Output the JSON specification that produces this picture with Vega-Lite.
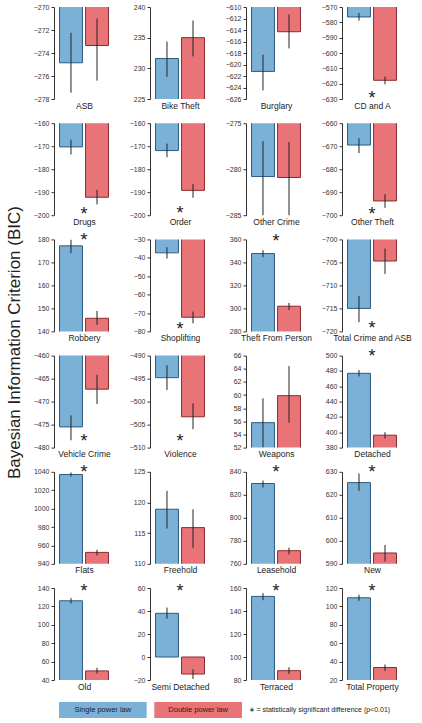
{
"$schema":"https://vega.github.io/schema/vega-lite/v6.json",
"padding":{"left":5,"top":3,"right":5,"bottom":5},
"data":{"values":[
{"panel":"ASB","model":"Single power law","value":-274.85,"lo":-277.45,"hi":-272.25},
{"panel":"ASB","model":"Double power law","value":-273.35,"lo":-276.4,"hi":-271.0},
{"panel":"Bike Theft","model":"Single power law","value":231.6,"lo":228.6,"hi":234.35},
{"panel":"Bike Theft","model":"Double power law","value":235.0,"lo":231.95,"hi":237.8},
{"panel":"Burglary","model":"Single power law","value":-621.2,"lo":-624.5,"hi":-618.3},
{"panel":"Burglary","model":"Double power law","value":-614.3,"lo":-617.2,"hi":-611.3},
{"panel":"CD and A","model":"Single power law","value":-576.5,"lo":-578.9,"hi":-573.9,"star":-627.2},
{"panel":"CD and A","model":"Double power law","value":-617.8,"lo":-620.4,"hi":-615.4},
{"panel":"Drugs","model":"Single power law","value":-170.3,"lo":-173.6,"hi":-167.2,"star":-198.3},
{"panel":"Drugs","model":"Double power law","value":-192.2,"lo":-195.3,"hi":-189.0},
{"panel":"Order","model":"Single power law","value":-171.9,"lo":-174.8,"hi":-168.9,"star":-197.9},
{"panel":"Order","model":"Double power law","value":-189.2,"lo":-192.4,"hi":-186.4},
{"panel":"Other Crime","model":"Single power law","value":-280.8,"lo":-285.5,"hi":-276.95},
{"panel":"Other Crime","model":"Double power law","value":-280.9,"lo":-285.5,"hi":-277.05},
{"panel":"Other Theft","model":"Single power law","value":-669.5,"lo":-673.0,"hi":-666.6,"star":-698.2},
{"panel":"Other Theft","model":"Double power law","value":-693.8,"lo":-696.8,"hi":-690.9},
{"panel":"Robbery","model":"Single power law","value":177.2,"lo":174.0,"hi":179.9,"star":181.2},
{"panel":"Robbery","model":"Double power law","value":145.7,"lo":142.8,"hi":148.9},
{"panel":"Shoplifting","model":"Single power law","value":-37.3,"lo":-40.4,"hi":-34.2,"star":-76.9},
{"panel":"Shoplifting","model":"Double power law","value":-72.3,"lo":-75.6,"hi":-69.2},
{"panel":"Theft From Person","model":"Single power law","value":347.7,"lo":344.5,"hi":350.7,"star":361.5},
{"panel":"Theft From Person","model":"Double power law","value":301.9,"lo":298.7,"hi":304.8},
{"panel":"Total Crime and ASB","model":"Single power law","value":-715.0,"lo":-718.0,"hi":-712.3,"star":-718.6},
{"panel":"Total Crime and ASB","model":"Double power law","value":-704.7,"lo":-707.5,"hi":-702.0},
{"panel":"Vehicle Crime","model":"Single power law","value":-475.5,"lo":-478.4,"hi":-473.0,"star":-477.9},
{"panel":"Vehicle Crime","model":"Double power law","value":-467.3,"lo":-470.5,"hi":-464.2},
{"panel":"Violence","model":"Single power law","value":-494.8,"lo":-497.5,"hi":-492.1,"star":-507.9},
{"panel":"Violence","model":"Double power law","value":-503.3,"lo":-506.0,"hi":-500.4},
{"panel":"Weapons","model":"Single power law","value":55.8,"lo":52.0,"hi":59.5},
{"panel":"Weapons","model":"Double power law","value":59.9,"lo":55.8,"hi":64.4},
{"panel":"Detached","model":"Single power law","value":476.9,"lo":472.9,"hi":481.2,"star":503.5},
{"panel":"Detached","model":"Double power law","value":396.2,"lo":391.8,"hi":400.1},
{"panel":"Flats","model":"Single power law","value":1037.1,"lo":1034.9,"hi":1039.3,"star":1042.9},
{"panel":"Flats","model":"Double power law","value":952.4,"lo":949.1,"hi":955.3},
{"panel":"Freehold","model":"Single power law","value":118.9,"lo":115.75,"hi":121.9},
{"panel":"Freehold","model":"Double power law","value":115.9,"lo":112.6,"hi":118.9},
{"panel":"Leasehold","model":"Single power law","value":829.8,"lo":826.3,"hi":832.4,"star":842.3},
{"panel":"Leasehold","model":"Double power law","value":771.4,"lo":768.2,"hi":774.0},
{"panel":"New","model":"Single power law","value":625.3,"lo":621.7,"hi":629.3,"star":631.2},
{"panel":"New","model":"Double power law","value":594.7,"lo":591.0,"hi":598.2},
{"panel":"Old","model":"Single power law","value":126.1,"lo":123.2,"hi":129.0,"star":139.6},
{"panel":"Old","model":"Double power law","value":49.9,"lo":47.0,"hi":53.2},
{"panel":"Semi Detached","model":"Single power law","value":38.0,"lo":33.3,"hi":43.0,"star":59.7},
{"panel":"Semi Detached","model":"Double power law","value":-14.8,"lo":-19.1,"hi":-10.6},
{"panel":"Terraced","model":"Single power law","value":152.7,"lo":149.4,"hi":155.6,"star":159.7},
{"panel":"Terraced","model":"Double power law","value":88.1,"lo":85.2,"hi":91.1},
{"panel":"Total Property","model":"Single power law","value":109.4,"lo":106.1,"hi":112.7,"star":119.6},
{"panel":"Total Property","model":"Double power law","value":33.6,"lo":29.9,"hi":36.8}
]},
"spacing":11,
"vconcat":[
{
"columns":4,
"bounds":"flush",
"spacing":{"row":24.2,"column":46},
"concat":[
{"width":50,"height":92,"transform":[{"filter":{"field":"panel","equal":"ASB"}}],"layer":[
{"mark":{"type":"bar","clip":true,"strokeWidth":1},"encoding":{"x":{"field":"model","type":"nominal","title":"ASB","scale":{"domain":["Single power law","Double power law"]}},"y":{"field":"value","type":"quantitative","scale":{"domain":[-278,-270],"nice":false,"zero":false},"axis":{"tickCount":20,"values":[-278,-276,-274,-272,-270]}},"y2":{"datum":0},"fill":{"field":"model","type":"nominal","scale":{"domain":["Single power law","Double power law"],"range":["#7bb1d7","#e87478"]},"legend":null},"stroke":{"field":"model","type":"nominal","scale":{"domain":["Single power law","Double power law"],"range":["#2c5a80","#8a2a2e"]},"legend":null}}},
{"mark":{"type":"rule","clip":true},"encoding":{"x":{"field":"model","type":"nominal"},"y":{"field":"lo","type":"quantitative"},"y2":{"field":"hi"}}},
{"transform":[{"filter":"isValid(datum.star)"}],"mark":{"type":"text","text":"*"},"encoding":{"y":{"field":"star","type":"quantitative"}}}]},
{"width":50,"height":92,"transform":[{"filter":{"field":"panel","equal":"Bike Theft"}}],"layer":[
{"mark":{"type":"bar","clip":true,"strokeWidth":1},"encoding":{"x":{"field":"model","type":"nominal","title":"Bike Theft","scale":{"domain":["Single power law","Double power law"]}},"y":{"field":"value","type":"quantitative","scale":{"domain":[225,240],"nice":false,"zero":false},"axis":{"tickCount":20,"values":[225,230,235,240]}},"y2":{"datum":0},"fill":{"field":"model","type":"nominal","scale":{"domain":["Single power law","Double power law"],"range":["#7bb1d7","#e87478"]},"legend":null},"stroke":{"field":"model","type":"nominal","scale":{"domain":["Single power law","Double power law"],"range":["#2c5a80","#8a2a2e"]},"legend":null}}},
{"mark":{"type":"rule","clip":true},"encoding":{"x":{"field":"model","type":"nominal"},"y":{"field":"lo","type":"quantitative"},"y2":{"field":"hi"}}},
{"transform":[{"filter":"isValid(datum.star)"}],"mark":{"type":"text","text":"*"},"encoding":{"y":{"field":"star","type":"quantitative"}}}]},
{"width":50,"height":92,"transform":[{"filter":{"field":"panel","equal":"Burglary"}}],"layer":[
{"mark":{"type":"bar","clip":true,"strokeWidth":1},"encoding":{"x":{"field":"model","type":"nominal","title":"Burglary","scale":{"domain":["Single power law","Double power law"]}},"y":{"field":"value","type":"quantitative","scale":{"domain":[-626,-610],"nice":false,"zero":false},"axis":{"tickCount":20,"values":[-626,-624,-622,-620,-618,-616,-614,-612,-610]}},"y2":{"datum":0},"fill":{"field":"model","type":"nominal","scale":{"domain":["Single power law","Double power law"],"range":["#7bb1d7","#e87478"]},"legend":null},"stroke":{"field":"model","type":"nominal","scale":{"domain":["Single power law","Double power law"],"range":["#2c5a80","#8a2a2e"]},"legend":null}}},
{"mark":{"type":"rule","clip":true},"encoding":{"x":{"field":"model","type":"nominal"},"y":{"field":"lo","type":"quantitative"},"y2":{"field":"hi"}}},
{"transform":[{"filter":"isValid(datum.star)"}],"mark":{"type":"text","text":"*"},"encoding":{"y":{"field":"star","type":"quantitative"}}}]},
{"width":50,"height":92,"transform":[{"filter":{"field":"panel","equal":"CD and A"}}],"layer":[
{"mark":{"type":"bar","clip":true,"strokeWidth":1},"encoding":{"x":{"field":"model","type":"nominal","title":"CD and A","scale":{"domain":["Single power law","Double power law"]}},"y":{"field":"value","type":"quantitative","scale":{"domain":[-630,-570],"nice":false,"zero":false},"axis":{"tickCount":20,"values":[-630,-620,-610,-600,-590,-580,-570]}},"y2":{"datum":0},"fill":{"field":"model","type":"nominal","scale":{"domain":["Single power law","Double power law"],"range":["#7bb1d7","#e87478"]},"legend":null},"stroke":{"field":"model","type":"nominal","scale":{"domain":["Single power law","Double power law"],"range":["#2c5a80","#8a2a2e"]},"legend":null}}},
{"mark":{"type":"rule","clip":true},"encoding":{"x":{"field":"model","type":"nominal"},"y":{"field":"lo","type":"quantitative"},"y2":{"field":"hi"}}},
{"transform":[{"filter":"isValid(datum.star)"}],"mark":{"type":"text","text":"*"},"encoding":{"y":{"field":"star","type":"quantitative"}}}]},
{"width":50,"height":92,"transform":[{"filter":{"field":"panel","equal":"Drugs"}}],"layer":[
{"mark":{"type":"bar","clip":true,"strokeWidth":1},"encoding":{"x":{"field":"model","type":"nominal","title":"Drugs","scale":{"domain":["Single power law","Double power law"]}},"y":{"field":"value","type":"quantitative","scale":{"domain":[-200,-160],"nice":false,"zero":false},"axis":{"tickCount":20,"values":[-200,-190,-180,-170,-160]}},"y2":{"datum":0},"fill":{"field":"model","type":"nominal","scale":{"domain":["Single power law","Double power law"],"range":["#7bb1d7","#e87478"]},"legend":null},"stroke":{"field":"model","type":"nominal","scale":{"domain":["Single power law","Double power law"],"range":["#2c5a80","#8a2a2e"]},"legend":null}}},
{"mark":{"type":"rule","clip":true},"encoding":{"x":{"field":"model","type":"nominal"},"y":{"field":"lo","type":"quantitative"},"y2":{"field":"hi"}}},
{"transform":[{"filter":"isValid(datum.star)"}],"mark":{"type":"text","text":"*"},"encoding":{"y":{"field":"star","type":"quantitative"}}}]},
{"width":50,"height":92,"transform":[{"filter":{"field":"panel","equal":"Order"}}],"layer":[
{"mark":{"type":"bar","clip":true,"strokeWidth":1},"encoding":{"x":{"field":"model","type":"nominal","title":"Order","scale":{"domain":["Single power law","Double power law"]}},"y":{"field":"value","type":"quantitative","scale":{"domain":[-200,-160],"nice":false,"zero":false},"axis":{"tickCount":20,"values":[-200,-190,-180,-170,-160]}},"y2":{"datum":0},"fill":{"field":"model","type":"nominal","scale":{"domain":["Single power law","Double power law"],"range":["#7bb1d7","#e87478"]},"legend":null},"stroke":{"field":"model","type":"nominal","scale":{"domain":["Single power law","Double power law"],"range":["#2c5a80","#8a2a2e"]},"legend":null}}},
{"mark":{"type":"rule","clip":true},"encoding":{"x":{"field":"model","type":"nominal"},"y":{"field":"lo","type":"quantitative"},"y2":{"field":"hi"}}},
{"transform":[{"filter":"isValid(datum.star)"}],"mark":{"type":"text","text":"*"},"encoding":{"y":{"field":"star","type":"quantitative"}}}]},
{"width":50,"height":92,"transform":[{"filter":{"field":"panel","equal":"Other Crime"}}],"layer":[
{"mark":{"type":"bar","clip":true,"strokeWidth":1},"encoding":{"x":{"field":"model","type":"nominal","title":"Other Crime","scale":{"domain":["Single power law","Double power law"]}},"y":{"field":"value","type":"quantitative","scale":{"domain":[-285,-275],"nice":false,"zero":false},"axis":{"tickCount":20,"values":[-285,-280,-275]}},"y2":{"datum":0},"fill":{"field":"model","type":"nominal","scale":{"domain":["Single power law","Double power law"],"range":["#7bb1d7","#e87478"]},"legend":null},"stroke":{"field":"model","type":"nominal","scale":{"domain":["Single power law","Double power law"],"range":["#2c5a80","#8a2a2e"]},"legend":null}}},
{"mark":{"type":"rule","clip":true},"encoding":{"x":{"field":"model","type":"nominal"},"y":{"field":"lo","type":"quantitative"},"y2":{"field":"hi"}}},
{"transform":[{"filter":"isValid(datum.star)"}],"mark":{"type":"text","text":"*"},"encoding":{"y":{"field":"star","type":"quantitative"}}}]},
{"width":50,"height":92,"transform":[{"filter":{"field":"panel","equal":"Other Theft"}}],"layer":[
{"mark":{"type":"bar","clip":true,"strokeWidth":1},"encoding":{"x":{"field":"model","type":"nominal","title":"Other Theft","scale":{"domain":["Single power law","Double power law"]}},"y":{"field":"value","type":"quantitative","scale":{"domain":[-700,-660],"nice":false,"zero":false},"axis":{"tickCount":20,"values":[-700,-690,-680,-670,-660]}},"y2":{"datum":0},"fill":{"field":"model","type":"nominal","scale":{"domain":["Single power law","Double power law"],"range":["#7bb1d7","#e87478"]},"legend":null},"stroke":{"field":"model","type":"nominal","scale":{"domain":["Single power law","Double power law"],"range":["#2c5a80","#8a2a2e"]},"legend":null}}},
{"mark":{"type":"rule","clip":true},"encoding":{"x":{"field":"model","type":"nominal"},"y":{"field":"lo","type":"quantitative"},"y2":{"field":"hi"}}},
{"transform":[{"filter":"isValid(datum.star)"}],"mark":{"type":"text","text":"*"},"encoding":{"y":{"field":"star","type":"quantitative"}}}]},
{"width":50,"height":92,"transform":[{"filter":{"field":"panel","equal":"Robbery"}}],"layer":[
{"mark":{"type":"bar","clip":true,"strokeWidth":1},"encoding":{"x":{"field":"model","type":"nominal","title":"Robbery","scale":{"domain":["Single power law","Double power law"]}},"y":{"field":"value","type":"quantitative","scale":{"domain":[140,180],"nice":false,"zero":false},"axis":{"tickCount":20,"values":[140,150,160,170,180]}},"y2":{"datum":0},"fill":{"field":"model","type":"nominal","scale":{"domain":["Single power law","Double power law"],"range":["#7bb1d7","#e87478"]},"legend":null},"stroke":{"field":"model","type":"nominal","scale":{"domain":["Single power law","Double power law"],"range":["#2c5a80","#8a2a2e"]},"legend":null}}},
{"mark":{"type":"rule","clip":true},"encoding":{"x":{"field":"model","type":"nominal"},"y":{"field":"lo","type":"quantitative"},"y2":{"field":"hi"}}},
{"transform":[{"filter":"isValid(datum.star)"}],"mark":{"type":"text","text":"*"},"encoding":{"y":{"field":"star","type":"quantitative"}}}]},
{"width":50,"height":92,"transform":[{"filter":{"field":"panel","equal":"Shoplifting"}}],"layer":[
{"mark":{"type":"bar","clip":true,"strokeWidth":1},"encoding":{"x":{"field":"model","type":"nominal","title":"Shoplifting","scale":{"domain":["Single power law","Double power law"]}},"y":{"field":"value","type":"quantitative","scale":{"domain":[-80,-30],"nice":false,"zero":false},"axis":{"tickCount":20,"values":[-80,-70,-60,-50,-40,-30]}},"y2":{"datum":0},"fill":{"field":"model","type":"nominal","scale":{"domain":["Single power law","Double power law"],"range":["#7bb1d7","#e87478"]},"legend":null},"stroke":{"field":"model","type":"nominal","scale":{"domain":["Single power law","Double power law"],"range":["#2c5a80","#8a2a2e"]},"legend":null}}},
{"mark":{"type":"rule","clip":true},"encoding":{"x":{"field":"model","type":"nominal"},"y":{"field":"lo","type":"quantitative"},"y2":{"field":"hi"}}},
{"transform":[{"filter":"isValid(datum.star)"}],"mark":{"type":"text","text":"*"},"encoding":{"y":{"field":"star","type":"quantitative"}}}]},
{"width":50,"height":92,"transform":[{"filter":{"field":"panel","equal":"Theft From Person"}}],"layer":[
{"mark":{"type":"bar","clip":true,"strokeWidth":1},"encoding":{"x":{"field":"model","type":"nominal","title":"Theft From Person","scale":{"domain":["Single power law","Double power law"]}},"y":{"field":"value","type":"quantitative","scale":{"domain":[280,360],"nice":false,"zero":false},"axis":{"tickCount":20,"values":[280,300,320,340,360]}},"y2":{"datum":0},"fill":{"field":"model","type":"nominal","scale":{"domain":["Single power law","Double power law"],"range":["#7bb1d7","#e87478"]},"legend":null},"stroke":{"field":"model","type":"nominal","scale":{"domain":["Single power law","Double power law"],"range":["#2c5a80","#8a2a2e"]},"legend":null}}},
{"mark":{"type":"rule","clip":true},"encoding":{"x":{"field":"model","type":"nominal"},"y":{"field":"lo","type":"quantitative"},"y2":{"field":"hi"}}},
{"transform":[{"filter":"isValid(datum.star)"}],"mark":{"type":"text","text":"*"},"encoding":{"y":{"field":"star","type":"quantitative"}}}]},
{"width":50,"height":92,"transform":[{"filter":{"field":"panel","equal":"Total Crime and ASB"}}],"layer":[
{"mark":{"type":"bar","clip":true,"strokeWidth":1},"encoding":{"x":{"field":"model","type":"nominal","title":"Total Crime and ASB","scale":{"domain":["Single power law","Double power law"]}},"y":{"field":"value","type":"quantitative","scale":{"domain":[-720,-700],"nice":false,"zero":false},"axis":{"tickCount":20,"values":[-720,-715,-710,-705,-700]}},"y2":{"datum":0},"fill":{"field":"model","type":"nominal","scale":{"domain":["Single power law","Double power law"],"range":["#7bb1d7","#e87478"]},"legend":null},"stroke":{"field":"model","type":"nominal","scale":{"domain":["Single power law","Double power law"],"range":["#2c5a80","#8a2a2e"]},"legend":null}}},
{"mark":{"type":"rule","clip":true},"encoding":{"x":{"field":"model","type":"nominal"},"y":{"field":"lo","type":"quantitative"},"y2":{"field":"hi"}}},
{"transform":[{"filter":"isValid(datum.star)"}],"mark":{"type":"text","text":"*"},"encoding":{"y":{"field":"star","type":"quantitative"}}}]},
{"width":50,"height":92,"transform":[{"filter":{"field":"panel","equal":"Vehicle Crime"}}],"layer":[
{"mark":{"type":"bar","clip":true,"strokeWidth":1},"encoding":{"x":{"field":"model","type":"nominal","title":"Vehicle Crime","scale":{"domain":["Single power law","Double power law"]}},"y":{"field":"value","type":"quantitative","scale":{"domain":[-480,-460],"nice":false,"zero":false},"axis":{"tickCount":20,"values":[-480,-475,-470,-465,-460],"title":"Bayesian Information Criterion (BIC)","titleY":-13.5,"titleFontSize":17,"titleFontWeight":"normal","titleColor":"#222222","titlePadding":10,"titleAnchor":"middle"}},"y2":{"datum":0},"fill":{"field":"model","type":"nominal","scale":{"domain":["Single power law","Double power law"],"range":["#7bb1d7","#e87478"]},"legend":null},"stroke":{"field":"model","type":"nominal","scale":{"domain":["Single power law","Double power law"],"range":["#2c5a80","#8a2a2e"]},"legend":null}}},
{"mark":{"type":"rule","clip":true},"encoding":{"x":{"field":"model","type":"nominal"},"y":{"field":"lo","type":"quantitative"},"y2":{"field":"hi"}}},
{"transform":[{"filter":"isValid(datum.star)"}],"mark":{"type":"text","text":"*"},"encoding":{"y":{"field":"star","type":"quantitative"}}}]},
{"width":50,"height":92,"transform":[{"filter":{"field":"panel","equal":"Violence"}}],"layer":[
{"mark":{"type":"bar","clip":true,"strokeWidth":1},"encoding":{"x":{"field":"model","type":"nominal","title":"Violence","scale":{"domain":["Single power law","Double power law"]}},"y":{"field":"value","type":"quantitative","scale":{"domain":[-510,-490],"nice":false,"zero":false},"axis":{"tickCount":20,"values":[-510,-505,-500,-495,-490]}},"y2":{"datum":0},"fill":{"field":"model","type":"nominal","scale":{"domain":["Single power law","Double power law"],"range":["#7bb1d7","#e87478"]},"legend":null},"stroke":{"field":"model","type":"nominal","scale":{"domain":["Single power law","Double power law"],"range":["#2c5a80","#8a2a2e"]},"legend":null}}},
{"mark":{"type":"rule","clip":true},"encoding":{"x":{"field":"model","type":"nominal"},"y":{"field":"lo","type":"quantitative"},"y2":{"field":"hi"}}},
{"transform":[{"filter":"isValid(datum.star)"}],"mark":{"type":"text","text":"*"},"encoding":{"y":{"field":"star","type":"quantitative"}}}]},
{"width":50,"height":92,"transform":[{"filter":{"field":"panel","equal":"Weapons"}}],"layer":[
{"mark":{"type":"bar","clip":true,"strokeWidth":1},"encoding":{"x":{"field":"model","type":"nominal","title":"Weapons","scale":{"domain":["Single power law","Double power law"]}},"y":{"field":"value","type":"quantitative","scale":{"domain":[52,66],"nice":false,"zero":false},"axis":{"tickCount":20,"values":[52,54,56,58,60,62,64,66]}},"y2":{"datum":0},"fill":{"field":"model","type":"nominal","scale":{"domain":["Single power law","Double power law"],"range":["#7bb1d7","#e87478"]},"legend":null},"stroke":{"field":"model","type":"nominal","scale":{"domain":["Single power law","Double power law"],"range":["#2c5a80","#8a2a2e"]},"legend":null}}},
{"mark":{"type":"rule","clip":true},"encoding":{"x":{"field":"model","type":"nominal"},"y":{"field":"lo","type":"quantitative"},"y2":{"field":"hi"}}},
{"transform":[{"filter":"isValid(datum.star)"}],"mark":{"type":"text","text":"*"},"encoding":{"y":{"field":"star","type":"quantitative"}}}]},
{"width":50,"height":92,"transform":[{"filter":{"field":"panel","equal":"Detached"}}],"layer":[
{"mark":{"type":"bar","clip":true,"strokeWidth":1},"encoding":{"x":{"field":"model","type":"nominal","title":"Detached","scale":{"domain":["Single power law","Double power law"]}},"y":{"field":"value","type":"quantitative","scale":{"domain":[380,500],"nice":false,"zero":false},"axis":{"tickCount":20,"values":[380,400,420,440,460,480,500]}},"y2":{"datum":0},"fill":{"field":"model","type":"nominal","scale":{"domain":["Single power law","Double power law"],"range":["#7bb1d7","#e87478"]},"legend":null},"stroke":{"field":"model","type":"nominal","scale":{"domain":["Single power law","Double power law"],"range":["#2c5a80","#8a2a2e"]},"legend":null}}},
{"mark":{"type":"rule","clip":true},"encoding":{"x":{"field":"model","type":"nominal"},"y":{"field":"lo","type":"quantitative"},"y2":{"field":"hi"}}},
{"transform":[{"filter":"isValid(datum.star)"}],"mark":{"type":"text","text":"*"},"encoding":{"y":{"field":"star","type":"quantitative"}}}]},
{"width":50,"height":92,"transform":[{"filter":{"field":"panel","equal":"Flats"}}],"layer":[
{"mark":{"type":"bar","clip":true,"strokeWidth":1},"encoding":{"x":{"field":"model","type":"nominal","title":"Flats","scale":{"domain":["Single power law","Double power law"]}},"y":{"field":"value","type":"quantitative","scale":{"domain":[940,1040],"nice":false,"zero":false},"axis":{"tickCount":20,"values":[940,960,980,1000,1020,1040]}},"y2":{"datum":0},"fill":{"field":"model","type":"nominal","scale":{"domain":["Single power law","Double power law"],"range":["#7bb1d7","#e87478"]},"legend":null},"stroke":{"field":"model","type":"nominal","scale":{"domain":["Single power law","Double power law"],"range":["#2c5a80","#8a2a2e"]},"legend":null}}},
{"mark":{"type":"rule","clip":true},"encoding":{"x":{"field":"model","type":"nominal"},"y":{"field":"lo","type":"quantitative"},"y2":{"field":"hi"}}},
{"transform":[{"filter":"isValid(datum.star)"}],"mark":{"type":"text","text":"*"},"encoding":{"y":{"field":"star","type":"quantitative"}}}]},
{"width":50,"height":92,"transform":[{"filter":{"field":"panel","equal":"Freehold"}}],"layer":[
{"mark":{"type":"bar","clip":true,"strokeWidth":1},"encoding":{"x":{"field":"model","type":"nominal","title":"Freehold","scale":{"domain":["Single power law","Double power law"]}},"y":{"field":"value","type":"quantitative","scale":{"domain":[110,125],"nice":false,"zero":false},"axis":{"tickCount":20,"values":[110,115,120,125]}},"y2":{"datum":0},"fill":{"field":"model","type":"nominal","scale":{"domain":["Single power law","Double power law"],"range":["#7bb1d7","#e87478"]},"legend":null},"stroke":{"field":"model","type":"nominal","scale":{"domain":["Single power law","Double power law"],"range":["#2c5a80","#8a2a2e"]},"legend":null}}},
{"mark":{"type":"rule","clip":true},"encoding":{"x":{"field":"model","type":"nominal"},"y":{"field":"lo","type":"quantitative"},"y2":{"field":"hi"}}},
{"transform":[{"filter":"isValid(datum.star)"}],"mark":{"type":"text","text":"*"},"encoding":{"y":{"field":"star","type":"quantitative"}}}]},
{"width":50,"height":92,"transform":[{"filter":{"field":"panel","equal":"Leasehold"}}],"layer":[
{"mark":{"type":"bar","clip":true,"strokeWidth":1},"encoding":{"x":{"field":"model","type":"nominal","title":"Leasehold","scale":{"domain":["Single power law","Double power law"]}},"y":{"field":"value","type":"quantitative","scale":{"domain":[760,840],"nice":false,"zero":false},"axis":{"tickCount":20,"values":[760,780,800,820,840]}},"y2":{"datum":0},"fill":{"field":"model","type":"nominal","scale":{"domain":["Single power law","Double power law"],"range":["#7bb1d7","#e87478"]},"legend":null},"stroke":{"field":"model","type":"nominal","scale":{"domain":["Single power law","Double power law"],"range":["#2c5a80","#8a2a2e"]},"legend":null}}},
{"mark":{"type":"rule","clip":true},"encoding":{"x":{"field":"model","type":"nominal"},"y":{"field":"lo","type":"quantitative"},"y2":{"field":"hi"}}},
{"transform":[{"filter":"isValid(datum.star)"}],"mark":{"type":"text","text":"*"},"encoding":{"y":{"field":"star","type":"quantitative"}}}]},
{"width":50,"height":92,"transform":[{"filter":{"field":"panel","equal":"New"}}],"layer":[
{"mark":{"type":"bar","clip":true,"strokeWidth":1},"encoding":{"x":{"field":"model","type":"nominal","title":"New","scale":{"domain":["Single power law","Double power law"]}},"y":{"field":"value","type":"quantitative","scale":{"domain":[590,630],"nice":false,"zero":false},"axis":{"tickCount":20,"values":[590,600,610,620,630]}},"y2":{"datum":0},"fill":{"field":"model","type":"nominal","scale":{"domain":["Single power law","Double power law"],"range":["#7bb1d7","#e87478"]},"legend":null},"stroke":{"field":"model","type":"nominal","scale":{"domain":["Single power law","Double power law"],"range":["#2c5a80","#8a2a2e"]},"legend":null}}},
{"mark":{"type":"rule","clip":true},"encoding":{"x":{"field":"model","type":"nominal"},"y":{"field":"lo","type":"quantitative"},"y2":{"field":"hi"}}},
{"transform":[{"filter":"isValid(datum.star)"}],"mark":{"type":"text","text":"*"},"encoding":{"y":{"field":"star","type":"quantitative"}}}]},
{"width":50,"height":92,"transform":[{"filter":{"field":"panel","equal":"Old"}}],"layer":[
{"mark":{"type":"bar","clip":true,"strokeWidth":1},"encoding":{"x":{"field":"model","type":"nominal","title":"Old","scale":{"domain":["Single power law","Double power law"]}},"y":{"field":"value","type":"quantitative","scale":{"domain":[40,140],"nice":false,"zero":false},"axis":{"tickCount":20,"values":[40,60,80,100,120,140]}},"y2":{"datum":0},"fill":{"field":"model","type":"nominal","scale":{"domain":["Single power law","Double power law"],"range":["#7bb1d7","#e87478"]},"legend":null},"stroke":{"field":"model","type":"nominal","scale":{"domain":["Single power law","Double power law"],"range":["#2c5a80","#8a2a2e"]},"legend":null}}},
{"mark":{"type":"rule","clip":true},"encoding":{"x":{"field":"model","type":"nominal"},"y":{"field":"lo","type":"quantitative"},"y2":{"field":"hi"}}},
{"transform":[{"filter":"isValid(datum.star)"}],"mark":{"type":"text","text":"*"},"encoding":{"y":{"field":"star","type":"quantitative"}}}]},
{"width":50,"height":92,"transform":[{"filter":{"field":"panel","equal":"Semi Detached"}}],"layer":[
{"mark":{"type":"bar","clip":true,"strokeWidth":1},"encoding":{"x":{"field":"model","type":"nominal","title":"Semi Detached","scale":{"domain":["Single power law","Double power law"]}},"y":{"field":"value","type":"quantitative","scale":{"domain":[-20,60],"nice":false,"zero":false},"axis":{"tickCount":20,"values":[-20,0,20,40,60]}},"y2":{"datum":0},"fill":{"field":"model","type":"nominal","scale":{"domain":["Single power law","Double power law"],"range":["#7bb1d7","#e87478"]},"legend":null},"stroke":{"field":"model","type":"nominal","scale":{"domain":["Single power law","Double power law"],"range":["#2c5a80","#8a2a2e"]},"legend":null}}},
{"mark":{"type":"rule","clip":true},"encoding":{"x":{"field":"model","type":"nominal"},"y":{"field":"lo","type":"quantitative"},"y2":{"field":"hi"}}},
{"transform":[{"filter":"isValid(datum.star)"}],"mark":{"type":"text","text":"*"},"encoding":{"y":{"field":"star","type":"quantitative"}}}]},
{"width":50,"height":92,"transform":[{"filter":{"field":"panel","equal":"Terraced"}}],"layer":[
{"mark":{"type":"bar","clip":true,"strokeWidth":1},"encoding":{"x":{"field":"model","type":"nominal","title":"Terraced","scale":{"domain":["Single power law","Double power law"]}},"y":{"field":"value","type":"quantitative","scale":{"domain":[80,160],"nice":false,"zero":false},"axis":{"tickCount":20,"values":[80,100,120,140,160]}},"y2":{"datum":0},"fill":{"field":"model","type":"nominal","scale":{"domain":["Single power law","Double power law"],"range":["#7bb1d7","#e87478"]},"legend":null},"stroke":{"field":"model","type":"nominal","scale":{"domain":["Single power law","Double power law"],"range":["#2c5a80","#8a2a2e"]},"legend":null}}},
{"mark":{"type":"rule","clip":true},"encoding":{"x":{"field":"model","type":"nominal"},"y":{"field":"lo","type":"quantitative"},"y2":{"field":"hi"}}},
{"transform":[{"filter":"isValid(datum.star)"}],"mark":{"type":"text","text":"*"},"encoding":{"y":{"field":"star","type":"quantitative"}}}]},
{"width":50,"height":92,"transform":[{"filter":{"field":"panel","equal":"Total Property"}}],"layer":[
{"mark":{"type":"bar","clip":true,"strokeWidth":1},"encoding":{"x":{"field":"model","type":"nominal","title":"Total Property","scale":{"domain":["Single power law","Double power law"]}},"y":{"field":"value","type":"quantitative","scale":{"domain":[20,120],"nice":false,"zero":false},"axis":{"tickCount":20,"values":[20,40,60,80,100,120]}},"y2":{"datum":0},"fill":{"field":"model","type":"nominal","scale":{"domain":["Single power law","Double power law"],"range":["#7bb1d7","#e87478"]},"legend":null},"stroke":{"field":"model","type":"nominal","scale":{"domain":["Single power law","Double power law"],"range":["#2c5a80","#8a2a2e"]},"legend":null}}},
{"mark":{"type":"rule","clip":true},"encoding":{"x":{"field":"model","type":"nominal"},"y":{"field":"lo","type":"quantitative"},"y2":{"field":"hi"}}},
{"transform":[{"filter":"isValid(datum.star)"}],"mark":{"type":"text","text":"*"},"encoding":{"y":{"field":"star","type":"quantitative"}}}]}
]
},
{
"hconcat":[
{"data":{"values":[{"model":"Single power law"},{"model":"Double power law"}]},"width":183,"height":16,
"encoding":{"x":{"field":"model","type":"nominal","scale":{"domain":["Single power law","Double power law"],"paddingInner":0.08,"paddingOuter":0},"axis":null}},
"layer":[
{"mark":{"type":"bar"},"encoding":{"fill":{"field":"model","type":"nominal","scale":{"domain":["Single power law","Double power law"],"range":["#7bb1d7","#e87478"]},"legend":null}}},
{"mark":{"type":"text","fontSize":7.5,"color":"#222222","dy":0},"encoding":{"text":{"field":"model"}}}
]},
{"data":{"values":[{"note":"∗ = statistically significant difference (p<0.01)"}]},"width":1,"height":16,
"mark":{"type":"text","align":"left","fontSize":7,"color":"#222222","dy":0},
"encoding":{"text":{"field":"note"},"x":{"field":"note","type":"nominal","scale":{"paddingInner":0,"paddingOuter":0},"axis":null}}}
],
"spacing":6,
"bounds":"flush"
}
],
"config":{
"font":"Liberation Sans",
"view":{"stroke":null},
"scale":{"bandPaddingInner":0.12,"bandPaddingOuter":0.02},
"axisY":{"title":null,"offset":5,"grid":false,"format":"d","labelOverlap":false,"tickCount":20,"domainColor":"#333333","domainWidth":1,"tickColor":"#333333","tickSize":3,"tickWidth":1,"labelFontSize":7,"labelColor":"#333333","labelPadding":2},
"axisX":{"domain":false,"ticks":false,"labels":false,"grid":false,"titleFontSize":8.5,"titleFontWeight":"normal","titleColor":"#222222","titlePadding":2},
"rule":{"color":"#222222","strokeWidth":1},
"text":{"fontSize":18,"color":"#222222","baseline":"middle","dy":4}
}
}
